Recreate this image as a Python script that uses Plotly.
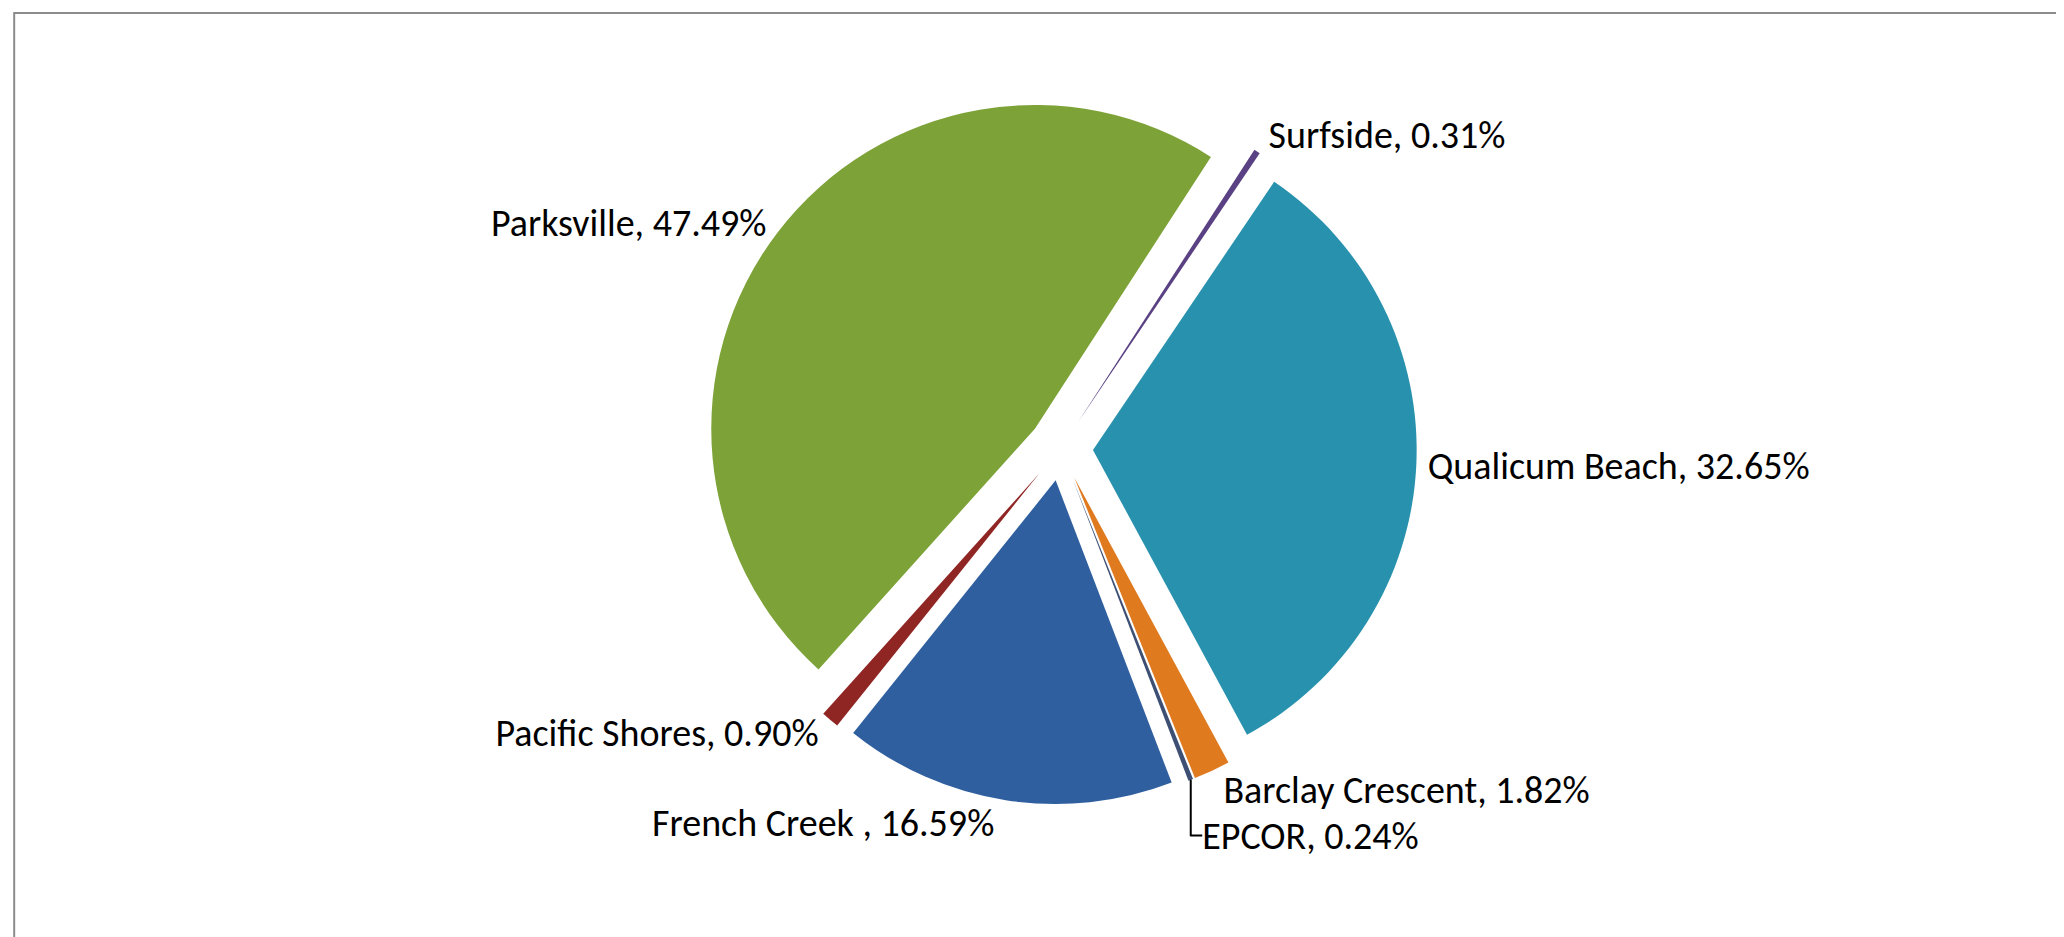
import plotly.graph_objects as go

# Data (Excel series order, clockwise from the first slice)
labels = ["French Creek\u00a0", "Pacific Shores", "Parksville", "Surfside",
          "Qualicum Beach", "Barclay Crescent", "EPCOR"]
shares = [16.59, 0.90, 47.49, 0.31, 32.65, 1.82, 0.24]
colors = ["#2f5f9f", "#8f2624", "#7da238", "#5a4183", "#2891ad", "#e07a1f", "#3d4f72"]

fig = go.Figure(go.Pie(
    labels=labels,
    values=shares,
    sort=False,
    direction="clockwise",
    rotation=159,
    pull=[0.1] * len(labels),
    marker=dict(colors=colors, line=dict(width=0)),
    texttemplate="%{label}, %{value:.2f}%",
    textposition="outside",
    automargin=False,
    outsidetextfont=dict(family="Carlito, Lato, 'Open Sans', sans-serif", size=38, color="#000000"),
    showlegend=False,
    hoverinfo="label+value",
    domain=dict(x=[0.2, 0.82], y=[0.15, 0.91]),
))

fig.update_layout(
    width=2064,
    height=937,
    autosize=False,
    margin=dict(l=0, r=0, t=0, b=0, pad=0, autoexpand=False),
    paper_bgcolor="#ffffff",
    plot_bgcolor="#ffffff",
    shapes=[dict(type="rect", xref="paper", yref="paper",
                 x0=0.003, x1=1.01, y0=-0.02, y1=0.9947,
                 line=dict(color="#8c8c8c", width=2), fillcolor="rgba(0,0,0,0)", layer="below")],
)

fig.write_html("out.html")
